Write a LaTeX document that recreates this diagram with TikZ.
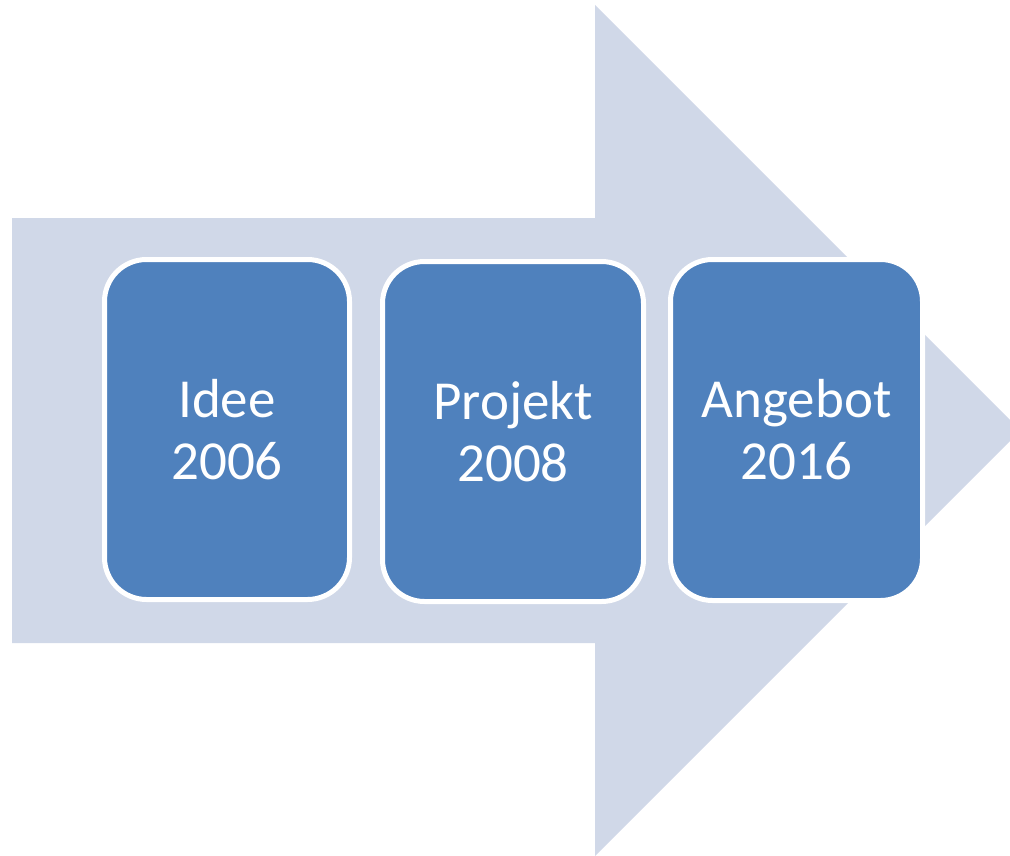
\documentclass[tikz,border=0pt]{standalone}
\usepackage{fontspec}
\newfontfamily\carlito{Carlito}
\definecolor{arrowfill}{HTML}{D0D8E8}
\definecolor{stagefill}{HTML}{4F81BD}
\begin{document}
\begin{tikzpicture}[x=1pt,y=-1pt,
    stage/.style={draw=white,line width=5pt,fill=stagefill,rounded corners=42pt,
        text=white,align=center,inner sep=0pt,
        font={\carlito\fontsize{55}{62}\selectfont}}]
                \useasboundingbox (0,0) rectangle (1010,856);
                \begin{scope}
                \clip (0,0) rectangle (1010,856);
                \fill[arrowfill] (12,218) -- (595,218) -- (595,5) -- (1020.5,430.5) -- (595,856) -- (595,643) -- (12,643) -- cycle;
                \end{scope}
                \node[stage,minimum width=245pt,minimum height=340pt] (idee) at (227,429.5) {Idee\\2006};
                \node[stage,minimum width=261pt,minimum height=340pt] (projekt) at (513,431.5) {Projekt\\2008};
                \node[stage,minimum width=252pt,minimum height=341pt] (angebot) at (796.5,430) {Angebot\\2016};
            \end{tikzpicture}
\end{document}
